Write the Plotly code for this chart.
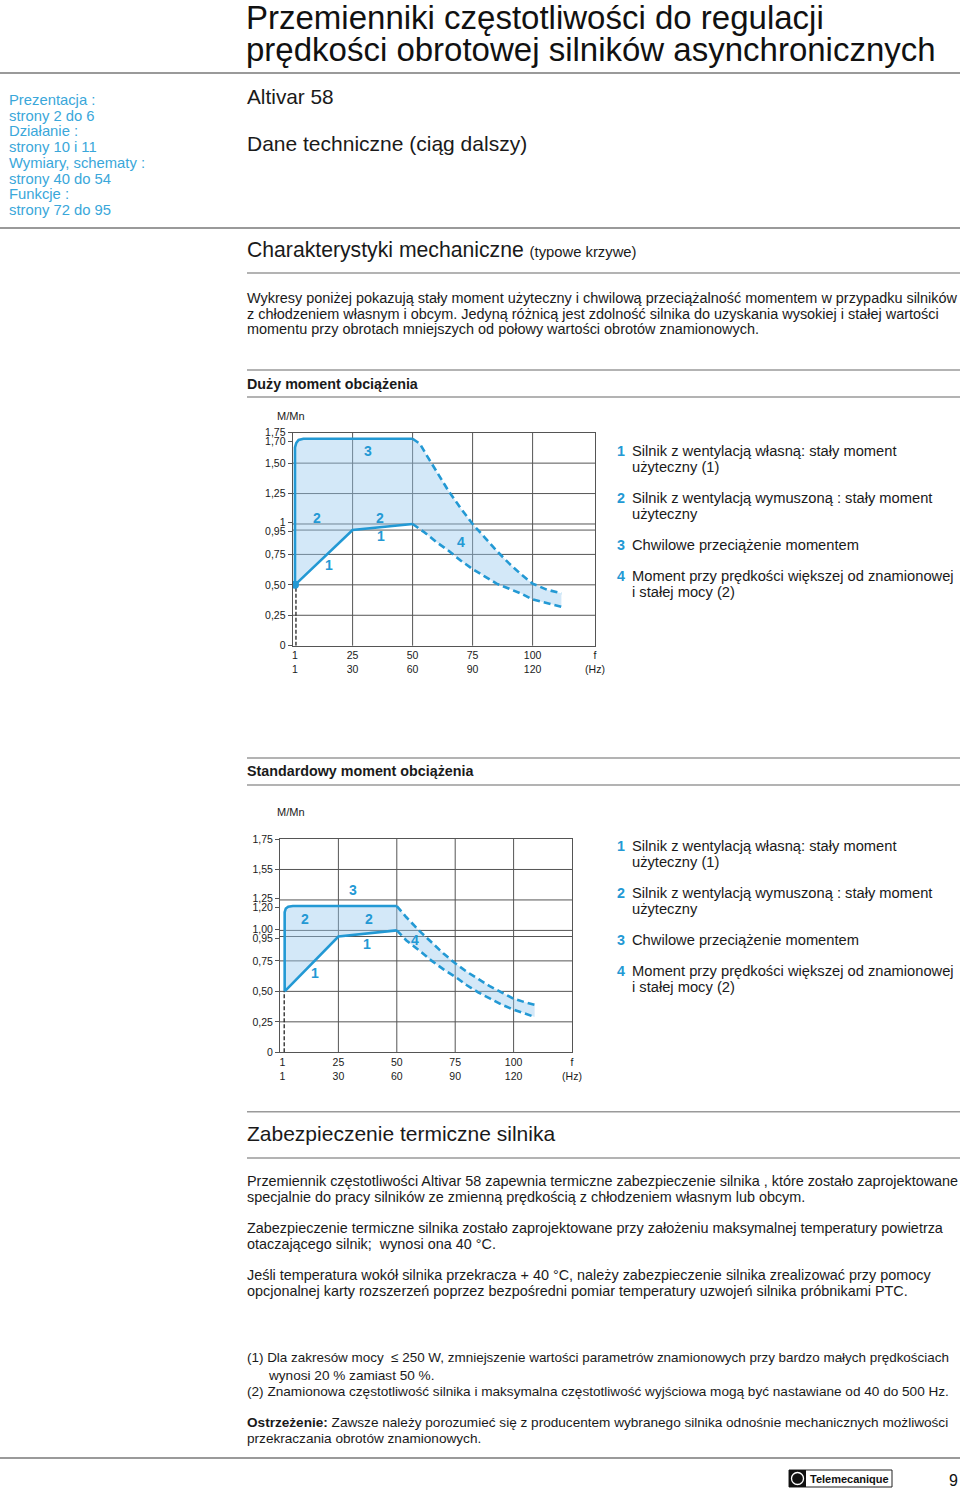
import plotly.graph_objects as go

W, H = 960, 1489
BLUE = '#2399d4'
FILL = 'rgba(150,200,238,0.42)'
SIDE = '#3aa7da'
GRID = '#555555'
TXT = '#1a1a1a'
FONT = 'Liberation Sans, Arial, sans-serif'

# ---- chart 1: Duzy moment obciazenia ----
c1_hi_x = [1, 1, 1.5, 2.5, 4.5, 50]
c1_hi_y = [0.5, 1.63, 1.665, 1.69, 1.70, 1.70]
c1_hi_dash_x = [50, 53, 56, 60, 65, 70, 75, 80, 85, 90, 95, 100, 106, 112]
c1_hi_dash_y = [1.70, 1.66, 1.56, 1.43, 1.27, 1.13, 1.00, 0.89, 0.78, 0.68, 0.59, 0.51, 0.46, 0.43]
c1_lo_x = [1, 25, 50]
c1_lo_y = [0.5, 0.95, 1.0]
c1_lo_dash_x = [50, 55, 60, 65, 70, 75, 80, 85, 90, 95, 100, 106, 112]
c1_lo_dash_y = [1.0, 0.93, 0.85, 0.78, 0.70, 0.63, 0.57, 0.51, 0.47, 0.43, 0.38, 0.35, 0.32]
c1_ytick = [0, 0.25, 0.5, 0.75, 0.94, 1.015, 1.25, 1.5, 1.678, 1.75]
c1_ytext = ['0', '0,25', '0,50', '0,75', '0,95', '1', '1,25', '1,50', '1,70', '1,75']
c1_ygrid = [0.25, 0.5, 0.75, 0.95, 1, 1.25, 1.5]
c1_labels = [('3', 31.6, 1.60), ('2', 10.3, 1.05), ('2', 36.4, 1.05),
             ('1', 15.3, 0.66), ('1', 36.8, 0.90), ('4', 70.2, 0.85)]

# ---- chart 2: Standardowy moment obciazenia ----
c2_hi_x = [2, 2, 2.5, 3.5, 5.5, 50]
c2_hi_y = [0.5, 1.15, 1.18, 1.195, 1.20, 1.20]
c2_hi_dash_x = [50, 54, 60, 65, 70, 75, 80, 85, 90, 95, 100, 105, 109]
c2_hi_dash_y = [1.20, 1.11, 0.99, 0.90, 0.81, 0.73, 0.66, 0.60, 0.54, 0.49, 0.44, 0.41, 0.39]
c2_lo_x = [2, 25, 50]
c2_lo_y = [0.5, 0.95, 1.0]
c2_lo_dash_x = [50, 54, 60, 65, 70, 75, 80, 85, 90, 95, 100, 105, 109]
c2_lo_dash_y = [1.0, 0.92, 0.83, 0.75, 0.68, 0.62, 0.55, 0.49, 0.44, 0.39, 0.35, 0.32, 0.29]
c2_ytick = [0, 0.25, 0.5, 0.75, 0.935, 1.01, 1.19, 1.265, 1.5, 1.75]
c2_ytext = ['0', '0,25', '0,50', '0,75', '0,95', '1,00', '1,20', '1,25', '1,55', '1,75']
c2_ygrid = [0.25, 0.5, 0.75, 0.95, 1, 1.25, 1.5]
c2_labels = [('3', 31.4, 1.33), ('2', 10.7, 1.09), ('2', 37.9, 1.09),
             ('1', 15.0, 0.65), ('1', 37.1, 0.89), ('4', 57.9, 0.92)]

x_tickvals = [1, 25, 50, 75, 100]
x_ticktext = ['1<br>1', '25<br>30', '50<br>60', '75<br>90', '100<br>120']
x_grid = [25, 50, 75, 100]

legend_items = [
    ('1', ['Silnik z wentylacją własną: stały moment', 'użyteczny (1)']),
    ('2', ['Silnik z wentylacją wymuszoną : stały moment', 'użyteczny']),
    ('3', ['Chwilowe przeciążenie momentem']),
    ('4', ['Moment przy prędkości większej od znamionowej', 'i stałej mocy (2)']),
]


def px(x):
    return x / W


def py(y):
    return 1 - y / H


fig = go.Figure()
shapes = []
annotations = []


def add_chart(n, hx, hy, hdx, hdy, lx, ly, ldx, ldy, dash_x, dot):
    xa = 'x' if n == 1 else 'x%d' % n
    ya = 'y' if n == 1 else 'y%d' % n
    poly_x = hx + hdx[1:] + ldx[::-1] + lx[::-1][1:]
    poly_y = hy + hdy[1:] + ldy[::-1] + ly[::-1][1:]
    fig.add_trace(go.Scatter(x=poly_x, y=poly_y, fill='toself', fillcolor=FILL,
                             mode='none', xaxis=xa, yaxis=ya, hoverinfo='skip'))
    fig.add_trace(go.Scatter(x=[dash_x, dash_x], y=[0, 0.5], mode='lines',
                             line=dict(color='#222', width=1.3, dash='4px,2px'),
                             xaxis=xa, yaxis=ya))
    for xs, ys, d in [(hx, hy, 'solid'), (hdx, hdy, '7px,4px'),
                      (lx, ly, 'solid'), (ldx, ldy, '7px,4px')]:
        fig.add_trace(go.Scatter(x=xs, y=ys, mode='lines', xaxis=xa, yaxis=ya,
                                 line=dict(color=BLUE, width=2.6, dash=d)))
    if dot:
        fig.add_trace(go.Scatter(x=[lx[0]], y=[ly[0]], mode='markers', xaxis=xa, yaxis=ya,
                                 marker=dict(color=BLUE, size=8)))


add_chart(1, c1_hi_x, c1_hi_y, c1_hi_dash_x, c1_hi_dash_y, c1_lo_x, c1_lo_y,
          c1_lo_dash_x, c1_lo_dash_y, 1.4, True)
add_chart(2, c2_hi_x, c2_hi_y, c2_hi_dash_x, c2_hi_dash_y, c2_lo_x, c2_lo_y,
          c2_lo_dash_x, c2_lo_dash_y, 1.8, False)

axis_common = dict(showgrid=False, zeroline=False, showline=True, mirror=True,
                   linecolor=GRID, linewidth=1,
                   tickfont=dict(family=FONT, size=10.5, color=TXT), tickmode='array')

# chart geometry in page pixels
c1_left, c1_right, c1_top, c1_bot = 292.6, 595, 432.7, 645.7
c2_left, c2_right, c2_top, c2_bot = 280, 572, 839, 1052.3

fig.update_layout(
    xaxis=dict(axis_common, domain=[px(c1_left), px(c1_right)], range=[0, 126],
               tickvals=x_tickvals + [126], ticktext=x_ticktext + ['f<br>(Hz)'], ticks='',
               anchor='y'),
    yaxis=dict(axis_common, domain=[py(c1_bot), py(c1_top)], range=[0, 1.75],
               tickvals=c1_ytick, ticktext=c1_ytext, ticks='outside', ticklen=4,
               tickcolor=GRID, anchor='x'),
    xaxis2=dict(axis_common, domain=[px(c2_left), px(c2_right)], range=[0, 125],
                tickvals=x_tickvals + [125], ticktext=x_ticktext + ['f<br>(Hz)'], ticks='',
                anchor='y2'),
    yaxis2=dict(axis_common, domain=[py(c2_bot), py(c2_top)], range=[0, 1.75],
                tickvals=c2_ytick, ticktext=c2_ytext, ticks='outside', ticklen=4,
                tickcolor=GRID, anchor='x2'),
)

# grid lines
for n, yg in [(1, c1_ygrid), (2, c2_ygrid)]:
    xr = 'x' if n == 1 else 'x2'
    yr = 'y' if n == 1 else 'y2'
    for v in yg:
        shapes.append(dict(type='line', xref=xr + ' domain', x0=0, x1=1, yref=yr, y0=v, y1=v,
                           line=dict(color=GRID, width=1), layer='below'))
    for v in x_grid:
        shapes.append(dict(type='line', xref=xr, x0=v, x1=v, yref=yr + ' domain', y0=0, y1=1,
                           line=dict(color=GRID, width=1), layer='below'))

# curve number labels
for n, labs in [(1, c1_labels), (2, c2_labels)]:
    xr = 'x' if n == 1 else 'x2'
    yr = 'y' if n == 1 else 'y2'
    for t, xv, yv in labs:
        annotations.append(dict(text='<b>%s</b>' % t, x=xv, y=yv, xref=xr, yref=yr,
                                showarrow=False, font=dict(family=FONT, size=14, color=BLUE)))


def txt(s, x, y, size=14, color=TXT, anchor='left'):
    annotations.append(dict(text=s, x=px(x), y=py(y), xref='paper', yref='paper',
                            xanchor=anchor, yanchor='middle', showarrow=False,
                            font=dict(family=FONT, size=size, color=color)))


def hline(y, x0=247, x1=960, width=1.5, color='#9a9a9a'):
    shapes.append(dict(type='line', xref='paper', yref='paper', x0=px(x0), x1=px(x1),
                       y0=py(y), y1=py(y), line=dict(color=color, width=width)))


# header
txt('Przemienniki częstotliwości do regulacji', 244, 17, 33, '#111')
txt('prędkości obrotowej silników asynchronicznych', 244, 49.5, 33, '#111')
hline(73, 0, 960, 2)
side = ['Prezentacja :', 'strony 2 do 6', 'Działanie :', 'strony 10 i 11',
        'Wymiary, schematy :', 'strony 40 do 54', 'Funkcje :', 'strony 72 do 95']
for i, s in enumerate(side):
    txt(s, 7, 100 + i * 15.7, 14.8, SIDE)
txt('Altivar 58', 245, 96, 20.8)
txt('Dane techniczne (ciąg dalszy)', 245, 143, 21)
hline(228, 0, 960, 2)

txt('Charakterystyki mechaniczne <span style="font-size:14.8px">(typowe krzywe)</span>', 245, 250, 21.2)
hline(273)
para1 = ['Wykresy poniżej pokazują stały moment użyteczny i chwilową przeciążalność momentem w przypadku silników',
         'z chłodzeniem własnym i obcym. Jedyną różnicą jest zdolność silnika do uzyskania wysokiej i stałej wartości',
         'momentu przy obrotach mniejszych od połowy wartości obrotów znamionowych.']
for i, s in enumerate(para1):
    txt(s, 245, 298 + i * 15.6, 14.45)
hline(370)
txt('<b>Duży moment obciążenia</b>', 245, 384, 14.3)
hline(397)
txt('M/Mn', 291, 416, 11, anchor='center')

hline(758)
txt('<b>Standardowy moment obciążenia</b>', 245, 771, 14.3)
hline(785)
txt('M/Mn', 291, 812, 11, anchor='center')

# legends beside charts
for base in [451, 846]:
    y = base
    for num, lines in legend_items:
        txt('<b>%s</b>' % num, 615, y, 14.3, BLUE)
        for j, ln in enumerate(lines):
            txt(ln, 630, y + j * 16, 14.7)
        y += 16 * len(lines) + 15

# thermal protection section
hline(1111.7)
txt('Zabezpieczenie termiczne silnika', 245, 1133, 21)
hline(1158)
para2 = [(1181, 'Przemiennik częstotliwości Altivar 58 zapewnia termiczne zabezpieczenie silnika , które zostało zaprojektowane'),
         (1197, 'specjalnie do pracy silników ze zmienną prędkością z chłodzeniem własnym lub obcym.'),
         (1228, 'Zabezpieczenie termiczne silnika zostało zaprojektowane przy założeniu maksymalnej temperatury powietrza'),
         (1244, 'otaczającego silnik;  wynosi ona 40 °C.'),
         (1275, 'Jeśli temperatura wokół silnika przekracza + 40 °C, należy zabezpieczenie silnika zrealizować przy pomocy'),
         (1291, 'opcjonalnej karty rozszerzeń poprzez bezpośredni pomiar temperatury uzwojeń silnika próbnikami PTC.')]
for y, s in para2:
    txt(s, 245, y, 14.4)

notes = [(245, 1357, 13.45, '(1) Dla zakresów mocy  ≤ 250 W, zmniejszenie wartości parametrów znamionowych przy bardzo małych prędkościach'),
         (266, 1375, 13.6, 'wynosi 20 % zamiast 50 %.'),
         (245, 1391, 13.6, '(2) Znamionowa częstotliwość silnika i maksymalna częstotliwość wyjściowa mogą być nastawiane od 40 do 500 Hz.'),
         (245, 1422, 13.6, '<b>Ostrzeżenie:</b> Zawsze należy porozumieć się z producentem wybranego silnika odnośnie mechanicznych możliwości'),
         (245, 1438, 13.6, 'przekraczania obrotów znamionowych.')]
for x, y, size, s in notes:
    txt(s, x, y, size)
hline(1458, 0, 960, 2)

# footer logo
shapes.append(dict(type='rect', xref='paper', yref='paper', x0=px(789), x1=px(892),
                   y0=py(1487), y1=py(1470), line=dict(color='#222', width=1), fillcolor='white'))
shapes.append(dict(type='rect', xref='paper', yref='paper', x0=px(789), x1=px(806),
                   y0=py(1487), y1=py(1470), line=dict(color='#111', width=0), fillcolor='#111'))
shapes.append(dict(type='circle', xref='paper', yref='paper', x0=px(791.5), x1=px(803.5),
                   y0=py(1484.5), y1=py(1472.5), line=dict(color='white', width=1.3)))
txt('<b>Telemecanique</b>', 849, 1478.5, 11, '#111', anchor='center')
txt('9', 953, 1480, 16, '#111', anchor='center')

fig.update_layout(width=W, height=H, margin=dict(l=0, r=0, t=0, b=0, autoexpand=False),
                  paper_bgcolor='white', plot_bgcolor='white', showlegend=False,
                  shapes=shapes, annotations=annotations,
                  font=dict(family=FONT, color=TXT))

# the page body has a default 8px margin; drop it so the figure fills the window
fig.write_html('out.html', config={'displayModeBar': False},
               post_script="document.body.style.margin='0';")
